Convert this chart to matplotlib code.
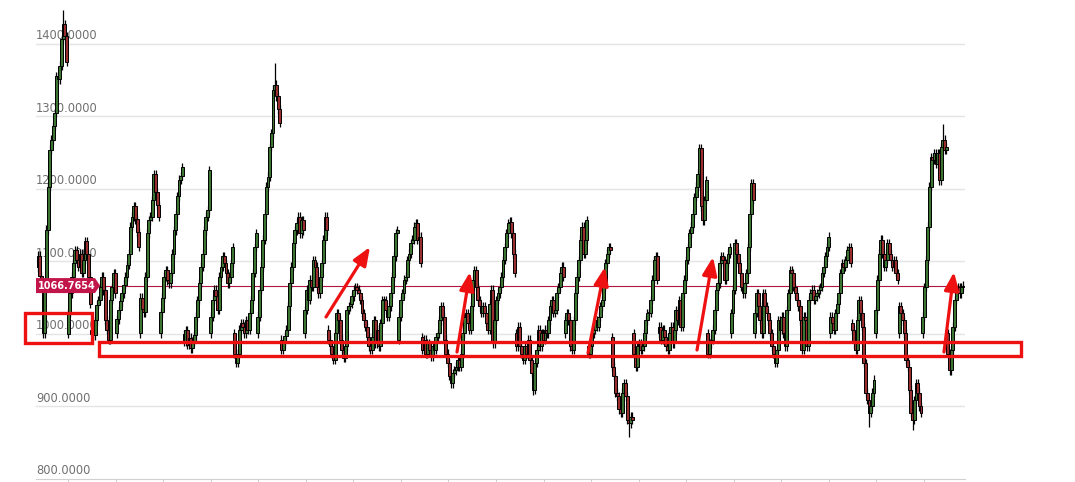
import numpy as np
import matplotlib
matplotlib.use("Agg")
import matplotlib.pyplot as plt
from matplotlib.patches import Rectangle, Polygon, FancyArrowPatch

# ---- data: price path, one list per session (first value = open of first candle) ----
seg01 = [1092, 1108, 1080, 1066, 1001, 1070, 1144, 1203, 1254, 1268, 1287, 1305, 1356, 1351, 1370, 1407, 1427, 1411, 1375]
seg02 = [1000, 1029, 1056, 1079, 1098, 1116, 1102, 1093, 1111, 1084, 1102, 1128, 1111, 1079, 1042]
seg03 = [1000, 1006, 998, 1019, 1040, 1047, 1065, 1079, 1060, 1019, 1006, 992, 1047, 1065, 1084, 1056]
seg04 = [1001, 1020, 1033, 1045, 1056, 1068, 1079, 1095, 1111, 1148, 1162, 1176, 1158, 1140, 1120]
seg05 = [1001, 1050, 1035, 1030, 1079, 1139, 1157, 1162, 1185, 1220, 1196, 1178, 1162]
seg06 = [1001, 1030, 1050, 1079, 1088, 1074, 1070, 1084, 1111, 1143, 1165, 1190, 1213, 1218, 1231]
seg07 = [1000, 990, 1005, 985, 995, 980, 990, 998, 1024, 1047, 1070, 1093, 1111, 1143, 1162, 1171, 1226]
seg08 = [1001, 1024, 1047, 1061, 1052, 1033, 1079, 1093, 1107, 1098, 1084, 1070, 1079, 1098, 1120]
seg09 = [1001, 973, 960, 973, 1006, 1015, 1010, 1001, 1019, 1006, 1029, 1047, 1084, 1120, 1139]
seg10 = [1001, 1024, 1061, 1093, 1130, 1166, 1203, 1217, 1258, 1277, 1337, 1344, 1328, 1310, 1291]
seg11 = [992, 978, 987, 997, 1006, 1038, 1070, 1093, 1125, 1143, 1153, 1162, 1139, 1157, 1143]
seg12 = [1001, 1033, 1061, 1047, 1075, 1065, 1102, 1093, 1065, 1056, 1079, 1098, 1130, 1162, 1143]
seg13 = [1006, 992, 983, 973, 964, 1001, 1029, 1019, 992, 978, 967, 983, 1033, 1038, 1042, 1052, 1061,
         1065, 1061, 1056, 1047, 1029, 1019, 1010, 996, 983, 978, 996, 1019, 987, 1006, 983, 1015, 1047,
         1047, 1033, 1024, 1038, 1056, 1079, 1107, 1139, 1143]
seg14 = [992, 1024, 1047, 1056, 1075, 1079, 1102, 1111, 1125, 1130, 1148, 1153, 1130, 1134, 1098]
seg15 = [996, 978, 992, 973, 987, 978, 969, 983, 978, 996, 1001, 1019, 1038, 1024, 992, 973, 960, 942,
         932, 946, 950, 955, 964, 955, 973, 1001, 1024, 1029, 1015, 1006, 1038, 1075, 1088, 1065, 1047,
         1038, 1029, 1038, 1029, 1015, 1006, 1042, 1061, 987, 1019, 1047, 1056, 1065, 1079, 1102, 1120,
         1139, 1153, 1155, 1139, 1111, 1084]
seg16 = [1001, 983, 1010, 983, 973, 964, 983, 973, 992, 964, 946, 923, 960, 978, 1006, 983, 1001, 992,
         1006, 1001, 1019, 1038, 1047, 1029, 1033, 1056, 1065, 1084, 1093, 1079]
seg17 = [1001, 1019, 1029, 1019, 983, 978, 1019, 1056, 1079, 1102, 1130, 1148, 1111, 1130, 1157]
seg18 = [983, 973, 983, 1001, 1006, 1019, 1010, 1024, 1038, 1047, 1065, 1098, 1111, 1120, 1116]
seg19 = [996, 955, 942, 919, 914, 896, 891, 919, 932, 914, 882, 877, 886, 882]
seg20 = [1001, 973, 955, 983, 987, 978, 983, 1001, 1019, 1029, 1029, 1047, 1075, 1102, 1107, 1075]
seg21 = [1001, 1010, 992, 1006, 996, 983, 978, 1001, 1010, 987, 1006, 1033, 1019, 1047, 1010, 1056, 1075,
         1102, 1120, 1139, 1148, 1166, 1189, 1203, 1221, 1256, 1176, 1157, 1185, 1212]
seg22 = [1001, 973, 987, 992, 1006, 1033, 1061, 1070, 1098, 1107, 1102, 1075, 1098, 1111, 1120]
seg23 = [1001, 1029, 1061, 1125, 1111, 1098, 1084, 1065, 1056, 1070, 1084, 1120, 1166, 1208, 1185]
seg24 = [1001, 1029, 1056, 1038, 1019, 1001, 1056, 1038, 1029, 1019, 1001, 983, 973, 960, 978, 1019, 1006,
         1024, 1001, 983, 1033, 1056, 1088, 1084, 1065, 1056, 1047, 1038, 1019, 978, 1024, 1019, 983, 1047,
         1056, 1061, 1047, 1052, 1056, 1061, 1065, 1084, 1093, 1107, 1120, 1134]
seg25 = [1001, 1024, 1015, 1006, 1029, 1042, 1056, 1084, 1098, 1093, 1102, 1116, 1120, 1098]
seg26 = [1015, 1006, 987, 978, 1019, 1047, 1029, 1010, 960, 919, 909, 891, 900, 919, 937]
seg27 = [1001, 1033, 1075, 1111, 1130, 1111, 1093, 1102, 1125, 1111, 1102, 1093, 1102, 1084, 1075]
seg28 = [1001, 1038, 1029, 1019, 1001, 964, 955, 923, 891, 882, 909, 932, 919, 900, 891]
seg29 = [1001, 1024, 1065, 1102, 1148, 1203, 1244, 1240, 1249, 1235, 1249, 1212, 1258, 1268, 1254, 1258]
seg30 = [1001, 973, 950, 978, 1010, 1047, 1061, 1065, 1056, 1065, 1066.7654]

segments = [seg01, seg02, seg03, seg04, seg05, seg06, seg07, seg08, seg09, seg10,
            seg11, seg12, seg13, seg14, seg15, seg16, seg17, seg18, seg19, seg20,
            seg21, seg22, seg23, seg24, seg25, seg26, seg27, seg28, seg29, seg30]

# long wicks (segment index -> extreme value)
seg_highs = {0: 1447, 9: 1374, 20: 1262, 28: 1290, 22: 1214, 5: 1236}
seg_lows = {18: 858, 25: 872, 27: 868, 14: 925, 15: 916, 29: 944}
wick = 6.0

last_price = 1066.7654
y_ticks = [800, 900, 1000, 1100, 1200, 1300, 1400]
y_labels = ["800.0000", "900.0000", "1000.0000", "1100.0000", "1200.0000", "1300.0000", "1400.0000"]

# ---- build candles ----
opens, closes, highs, lows = [], [], [], []
for si, seg in enumerate(segments):
    o = np.array(seg[:-1], float)
    c = np.array(seg[1:], float)
    h = np.maximum(o, c) + wick
    l = np.minimum(o, c) - wick
    if si in seg_highs:
        h[np.argmax(h)] = seg_highs[si]
    if si in seg_lows:
        l[np.argmin(l)] = seg_lows[si]
    opens.append(o); closes.append(c); highs.append(h); lows.append(l)
opens = np.concatenate(opens); closes = np.concatenate(closes)
highs = np.concatenate(highs); lows = np.concatenate(lows)
N = len(opens)
x = np.arange(N)

W, H = 1075, 482
fig = plt.figure(figsize=(W / 100, H / 100), dpi=100)
fig.patch.set_facecolor("white")
ax_l, ax_r, ax_top, ax_bot = 36, 965, 0, 479
ax = fig.add_axes([ax_l / W, 1 - ax_bot / H, (ax_r - ax_l) / W, (ax_bot - ax_top) / H])
ax.set_facecolor("white")

ppu = (479.3 - 44) / 600.0
ax.set_ylim(800, 1400 + 44 / ppu)
d = (963 - 38) / (N - 1)
ax.set_xlim(-(38 - ax_l) / d, N - 1 + (ax_r - 963) / d)

# grid + labels
for v, lab in zip(y_ticks, y_labels):
    if v > 800:
        ax.axhline(v, color="#e4e4e4", lw=1.0, zorder=0)
    ax.annotate(lab, xy=(0, v), xycoords=("axes fraction", "data"), xytext=(0, 1.2),
                textcoords="offset points", ha="left", va="bottom", fontsize=8.3,
                color="#707070", zorder=1)

ax.axhline(last_price, color="#b0163f", lw=0.8, zorder=2)

# candles
up = closes >= opens
ax.vlines(x, lows, highs, color="black", lw=0.9, zorder=3)
bottoms = np.minimum(opens, closes)
heights = np.maximum(np.abs(closes - opens), 1.5)
cols = np.where(up, "#3b7531", "#9a2d2d")
ax.bar(x, heights, bottom=bottoms, width=1.75, color=cols, edgecolor="black",
       linewidth=0.7, zorder=4)

# axes styling
for s in ["top", "right", "left"]:
    ax.spines[s].set_visible(False)
ax.spines["bottom"].set_color("#d0d0d0")
ax.set_yticks([])
tick_px = np.linspace(68, 924, 19)
ax.set_xticks(ax.get_xlim()[0] + (tick_px - ax_l) / (ax_r - ax_l) * (ax.get_xlim()[1] - ax.get_xlim()[0]))
ax.tick_params(axis="x", length=4, color="#d0d0d0", labelbottom=False)

# last price tag
xf0, xf1, xtip = 0.0, (95 - ax_l) / (ax_r - ax_l), (100 - ax_l) / (ax_r - ax_l)
hh = 7.5 / ppu
tag = Polygon([[xf0, last_price - hh], [xf1, last_price - hh], [xtip, last_price],
               [xf1, last_price + hh], [xf0, last_price + hh]], closed=True,
              transform=ax.get_yaxis_transform(), facecolor="#c2164a", edgecolor="none", zorder=6)
ax.add_patch(tag)
ax.text(0.002, last_price, "1066.7654", transform=ax.get_yaxis_transform(), ha="left",
        va="center", fontsize=7.0, fontweight="bold", color="white", zorder=7)

# red annotations (figure pixel overlay)
red = "#ee1111"
def fx(px): return px / W
def fy(py): return 1 - py / H
for (x0, y0, x1, y1) in [(25, 313.3, 91.7, 343.3), (99.3, 341.7, 1020.7, 356.3)]:
    fig.add_artist(Rectangle((fx(x0), fy(y1)), fx(x1) - fx(x0), fy(y0) - fy(y1),
                             transform=fig.transFigure, fill=False, edgecolor=red, lw=2.4, zorder=10))
arrows = [((326, 317), (370, 247)), ((457, 352), (470, 272)), ((588, 353), (605, 267)),
          ((697, 350), (713, 257)), ((944, 352), (954, 272))]
for (a, b) in arrows:
    fig.add_artist(FancyArrowPatch((fx(a[0]), fy(a[1])), (fx(b[0]), fy(b[1])),
                                   transform=fig.transFigure, arrowstyle="-|>,head_length=1.0,head_width=0.4",
                                   mutation_scale=11, color=red, lw=2.3, shrinkA=0, shrinkB=0, zorder=11))

fig.savefig("out.png", dpi=100, facecolor="white")
